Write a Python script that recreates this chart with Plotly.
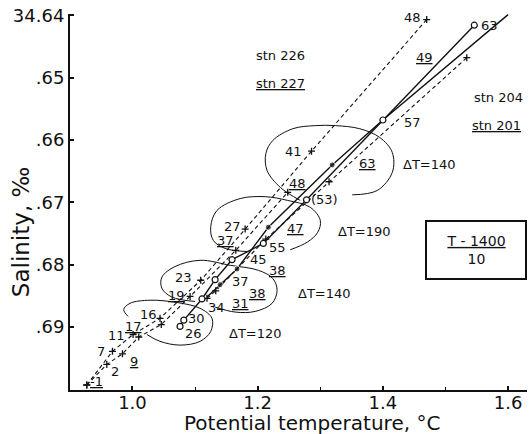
import plotly.graph_objects as go

# ---------------- data (potential temperature degC, salinity permil) ----------------
# stn 226 : dashed line, "+" markers
t_226 = [0.927, 0.968, 1.001, 1.044, 1.109, 1.180, 1.286, 1.470]
s_226 = [34.6993, 34.6939, 34.6912, 34.6886, 34.6825, 34.6743, 34.6618, 34.6407]

# stn 227 : dashed line, "+" markers
t_227 = [0.927, 0.959, 0.984, 1.010, 1.046, 1.092, 1.165, 1.248]
s_227 = [34.6993, 34.6960, 34.6943, 34.6916, 34.6896, 34.6851, 34.6777, 34.6684]

# right-hand dashed line, "+" markers
t_dash_r = [1.119, 1.133, 1.213, 1.314, 1.534]
s_dash_r = [34.6854, 34.6842, 34.6759, 34.6667, 34.6468]

# stn 204 : solid line, open circles
t_204 = [1.076, 1.082, 1.111, 1.132, 1.159, 1.209, 1.278, 1.400, 1.546]
s_204 = [34.6899, 34.6889, 34.6855, 34.6824, 34.6792, 34.6766, 34.6696, 34.6568, 34.6416]

# stn 201 : solid line, filled dots
t_201 = [1.119, 1.140, 1.167, 1.217, 1.319, 1.400, 1.600]
s_201 = [34.6852, 34.6832, 34.6807, 34.6740, 34.6640, 34.6568, 34.6399]
dot_201 = [False, True, True, True, True, False, False]

# Delta-T outlines
loopA_t = [1.268, 1.236, 1.215, 1.213, 1.224, 1.256, 1.292, 1.324, 1.363, 1.395, 1.415, 1.415, 1.391, 1.351]
loopA_s = [34.6697, 34.6676, 34.6649, 34.6622, 34.6601, 34.6582, 34.6577, 34.6577, 34.6582, 34.6596, 34.6620, 34.6652, 34.6681, 34.6688]
loopB_t = [1.183, 1.148, 1.129, 1.125, 1.135, 1.172, 1.212, 1.248, 1.284, 1.300, 1.296, 1.279, 1.252]
loopB_s = [34.6779, 34.6774, 34.6761, 34.6739, 34.6713, 34.6694, 34.6691, 34.6697, 34.6708, 34.6729, 34.6748, 34.6764, 34.6776]
loopC_t = [1.100, 1.063, 1.047, 1.047, 1.068, 1.108, 1.156, 1.201, 1.224, 1.231, 1.223, 1.196, 1.164, 1.132]
loopC_s = [34.6859, 34.6852, 34.6838, 34.6820, 34.6803, 34.6793, 34.6801, 34.6809, 34.6822, 34.6841, 34.6862, 34.6875, 34.6876, 34.6868]
loopD_t = [1.023, 1.044, 1.076, 1.108, 1.125, 1.127, 1.108, 1.073, 1.028, 0.996, 0.986, 0.993]
loopD_s = [34.6912, 34.6923, 34.6929, 34.6923, 34.6907, 34.6886, 34.6870, 34.6861, 34.6857, 34.6862, 34.6872, 34.6883]

# sample-depth labels (plain)
plain_txt = ["2", "7", "11", "16", "23", "27", "41", "48", "26", "30", "34", "37", "45", "55", "(53)", "57", "63"]
plain_t = [0.972, 0.950, 0.974, 1.025, 1.082, 1.159, 1.258, 1.4465, 1.097, 1.103, 1.135, 1.173, 1.202, 1.232, 1.3075, 1.4465, 1.571]
plain_s = [34.6971, 34.6940, 34.6913, 34.6880, 34.6820, 34.6739, 34.6619, 34.6403, 34.6910, 34.6886, 34.6868, 34.6827, 34.6792, 34.6772, 34.6696, 34.6572, 34.6417]

# sample-depth labels (underlined)
under_txt = ["-1", "9", "17", "19", "37", "31", "38", "38", "47", "48", "63", "49"]
under_t = [0.943, 1.002, 1.001, 1.071, 1.149, 1.173, 1.199, 1.232, 1.261, 1.264, 1.376, 1.466]
under_s = [34.6987, 34.6955, 34.6899, 34.6849, 34.6761, 34.6862, 34.6846, 34.6809, 34.6742, 34.6670, 34.6638, 34.6468]

# station names
stn_txt = ["stn 226", "<u>stn 227</u>", "stn 204", "<u>stn 201</u>"]
stn_t = [1.236, 1.236, 1.584, 1.582]
stn_s = [34.6465, 34.6510, 34.6532, 34.6577]

# Delta-T labels
dT_txt = ["\u0394T=140", "\u0394T=190", "\u0394T=140", "\u0394T=120"]
dT_t = [1.474, 1.371, 1.3075, 1.196]
dT_s = [34.6640, 34.6747, 34.6846, 34.6910]

x_ticks = [1.0, 1.2, 1.4, 1.6]
x_ticktext = ["1.0", "1.2", "1.4", "1.6"]
x_minor = [1.1, 1.3, 1.5]
y_ticks = [34.64, 34.65, 34.66, 34.67, 34.68, 34.69]
y_ticktext = ["34.64", ".65", ".66", ".67", ".68", ".69"]

# ---------------- figure ----------------
BLACK = "#111111"
FONT = "DejaVu Sans"
fig = go.Figure()

for lt, ls in [(loopA_t, loopA_s), (loopB_t, loopB_s), (loopC_t, loopC_s), (loopD_t, loopD_s)]:
    fig.add_trace(go.Scatter(x=lt, y=ls, mode="lines",
                             line=dict(color=BLACK, width=1, shape="spline", smoothing=1.0),
                             hoverinfo="skip"))

dash_style = "4px,3px"
for tt, ss in [(t_226, s_226), (t_227, s_227), (t_dash_r, s_dash_r)]:
    fig.add_trace(go.Scatter(x=tt, y=ss, mode="lines+markers",
                             line=dict(color=BLACK, width=1.1, dash=dash_style),
                             marker=dict(symbol="cross-thin", size=5, color=BLACK,
                                         line=dict(color=BLACK, width=1.3)),
                             cliponaxis=False))

fig.add_trace(go.Scatter(x=t_201, y=s_201, mode="lines+markers",
                         line=dict(color=BLACK, width=1.4),
                         marker=dict(symbol="circle", size=[6 if d else 0 for d in dot_201], color=BLACK),
                         cliponaxis=False))

fig.add_trace(go.Scatter(x=t_204, y=s_204, mode="lines+markers",
                         line=dict(color=BLACK, width=1.4),
                         marker=dict(symbol="circle", size=6, color="white",
                                     line=dict(color=BLACK, width=1.2)),
                         cliponaxis=False))

ann = []
lab_font = dict(family=FONT, size=13, color=BLACK)
for txt, x, y in zip(plain_txt, plain_t, plain_s):
    ann.append(dict(x=x, y=y, xref="x", yref="y", text=txt, showarrow=False, font=lab_font))
for txt, x, y in zip(under_txt, under_t, under_s):
    ann.append(dict(x=x, y=y, xref="x", yref="y", text="<u>" + txt + "</u>", showarrow=False, font=lab_font))
for txt, x, y in zip(stn_txt, stn_t, stn_s):
    ann.append(dict(x=x, y=y, xref="x", yref="y", text=txt, showarrow=False, font=lab_font))
for txt, x, y in zip(dT_txt, dT_t, dT_s):
    ann.append(dict(x=x, y=y, xref="x", yref="y", text=txt, showarrow=False, font=lab_font))

# boxed scale note
ann.append(dict(x=1.5487, y=34.6777, xref="x", yref="y", showarrow=False,
                text="<u>T - 1400</u><br>10", font=dict(family=FONT, size=14, color=BLACK),
                bordercolor=BLACK, borderwidth=2, borderpad=2, width=94, height=52,
                bgcolor="white", align="center", xanchor="center", yanchor="middle"))

# axis titles
ann.append(dict(x=-0.107, y=0.42, xref="paper", yref="paper", showarrow=False,
                xanchor="center", yanchor="middle",
                text="Salinity, \u2030", textangle=-90,
                font=dict(family=FONT, size=23, color=BLACK)))
ann.append(dict(x=0.5295, y=-0.087, xref="paper", yref="paper", showarrow=False,
                xanchor="center", yanchor="middle",
                text="Potential temperature, \u00b0C",
                font=dict(family=FONT, size=20, color=BLACK)))

fig.update_layout(
    width=531, height=434,
    margin=dict(l=70, r=4, t=14, b=44),
    paper_bgcolor="white", plot_bgcolor="white",
    showlegend=False,
    annotations=ann,
    xaxis=dict(range=[0.9002, 1.6302], showline=True, linewidth=2, linecolor=BLACK,
               ticks="inside", ticklen=4, tickwidth=1.5, tickcolor=BLACK,
               tickvals=x_ticks, ticktext=x_ticktext,
               tickfont=dict(family=FONT, size=18, color=BLACK),
               ticklabelstandoff=-5, ticklabeloverflow="allow",
               minor=dict(tickvals=x_minor, ticks="inside", ticklen=3, tickwidth=1, tickcolor=BLACK),
               showgrid=False, zeroline=False, automargin=False),
    yaxis=dict(range=[34.7001, 34.6398], showline=True, linewidth=2, linecolor=BLACK,
               ticks="inside", ticklen=4, tickwidth=1.5, tickcolor=BLACK,
               tickvals=y_ticks, ticktext=y_ticktext,
               tickfont=dict(family=FONT, size=18, color=BLACK),
               ticklabeloverflow="allow",
               showgrid=False, zeroline=False, automargin=False),
)

# remove the page's default 8px body margin so the 531x434 figure fills the window exactly
fig.write_html("out.html", config={"displayModeBar": False},
               post_script="document.body.style.margin='0px';")
